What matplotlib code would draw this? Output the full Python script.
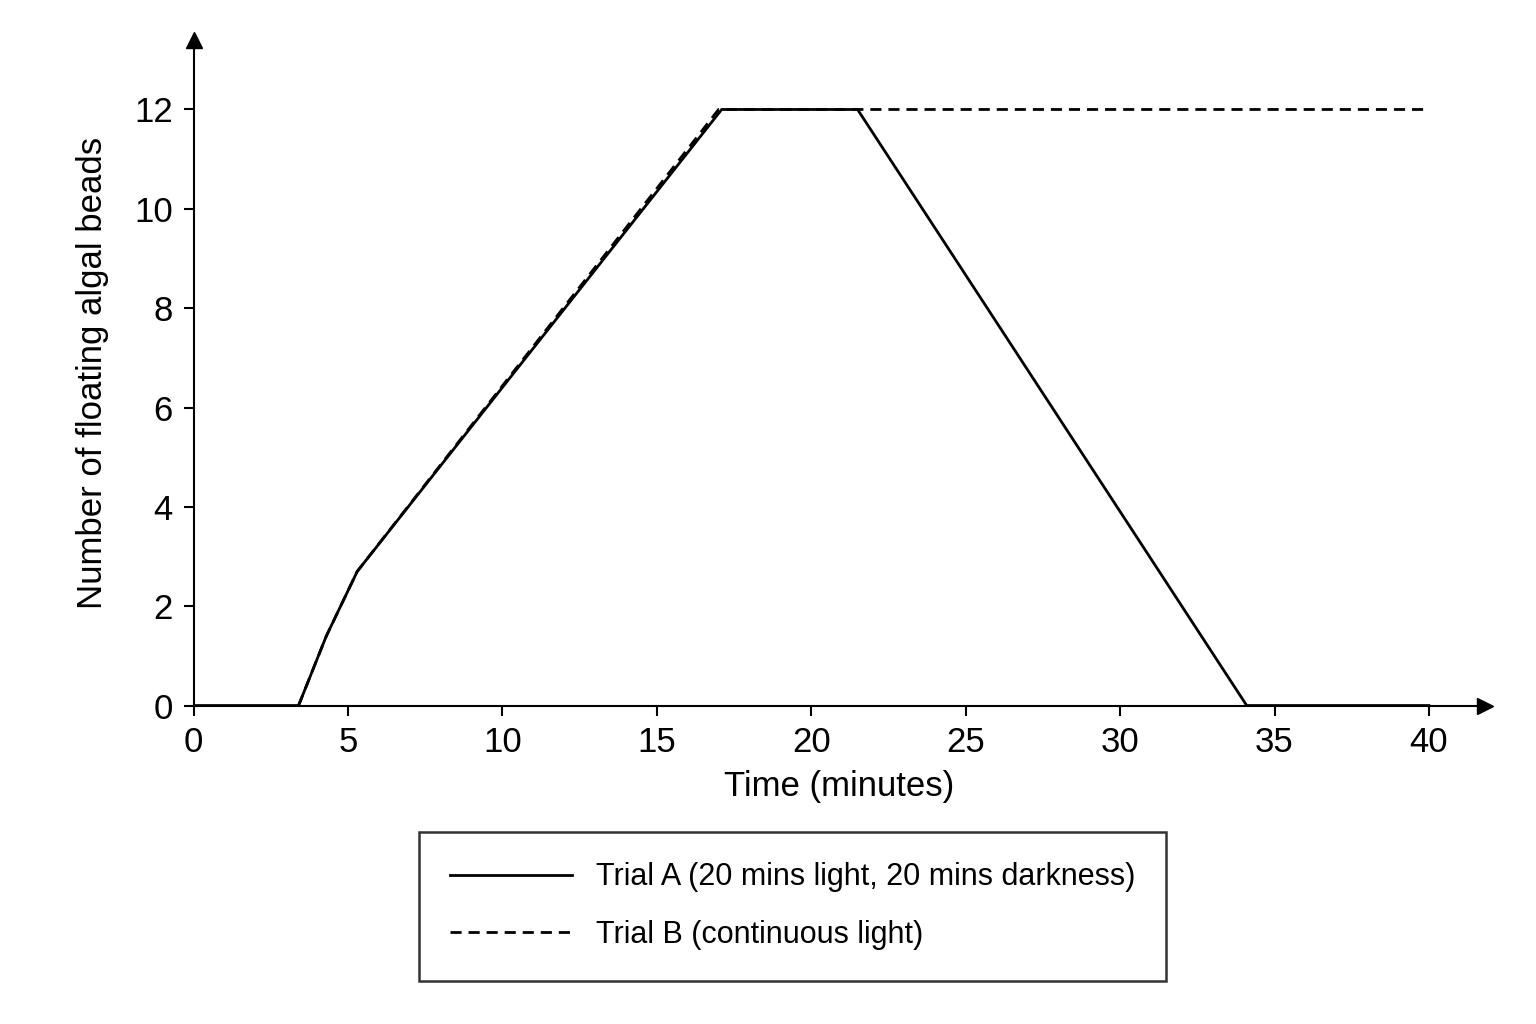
import matplotlib.pyplot as plt

a_time = [0, 3.4, 4.3, 5.3, 17.1, 21.5, 34.1, 40]
a_beads = [0, 0, 1.4, 2.7, 12, 12, 0, 0]
b_time = [3.4, 4.3, 5.3, 17.0, 40]
b_beads = [0, 1.4, 2.7, 12, 12]

plt.rcParams['font.family'] = ['Liberation Sans', 'DejaVu Sans']
fig = plt.figure(figsize=(15.36, 10.24), dpi=100)
ax = fig.add_axes([0.126, 0.311, 0.8405, 0.65])

ax.plot(a_time, a_beads, color='black', lw=2, label='Trial A (20 mins light, 20 mins darkness)')
ax.plot(b_time, b_beads, color='black', lw=2, ls=(0, (4, 2.5)), label='Trial B (continuous light)')

ax.set_xlim(0, 41.8)
ax.set_ylim(0, 13.4)
ax.set_xticks(range(0, 41, 5))
ax.set_yticks(range(0, 13, 2))
ax.tick_params(labelsize=25, length=7, width=1.5, pad=8)
for s in ['top', 'right']:
    ax.spines[s].set_visible(False)
for s in ['left', 'bottom']:
    ax.spines[s].set_linewidth(1.5)
ax.plot(1, 0, '>k', ms=11, transform=ax.transAxes, clip_on=False)
ax.plot(0, 1, '^k', ms=11, transform=ax.transAxes, clip_on=False)
ax.set_xlabel('Time (minutes)', fontsize=25, labelpad=8)
ax.set_ylabel('Number of floating algal beads', fontsize=25, labelpad=18)

leg = fig.legend(loc='center', bbox_to_anchor=(0.516, 0.115), fontsize=22,
                 frameon=True, fancybox=False, edgecolor='black',
                 handlelength=4, borderpad=1.0, labelspacing=0.9, handletextpad=0.8,
                 borderaxespad=0)
leg.get_frame().set_linewidth(1.8)

fig.savefig('out.png', dpi=100, facecolor='white')
